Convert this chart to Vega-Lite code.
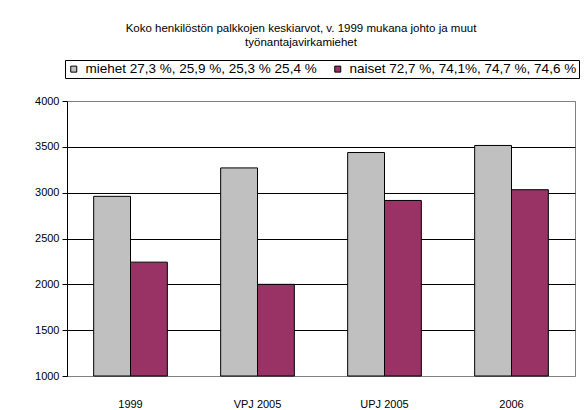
{
  "$schema": "https://vega.github.io/schema/vega-lite/v6.json",
  "autosize": {"type": "none"},
  "width": 508,
  "height": 275,
  "padding": {"left": 67, "top": 101, "right": 9, "bottom": 34},
  "background": "white",
  "config": {
    "font": "Liberation Sans",
    "view": {"stroke": "#808080", "strokeWidth": 1}
  },
  "title": {
    "text": ["Koko henkilöstön palkkojen keskiarvot, v. 1999 mukana johto ja muut", "työnantajavirkamiehet"],
    "fontSize": 11.5,
    "fontWeight": "normal",
    "font": "Liberation Sans",
    "color": "black",
    "anchor": "middle",
    "dx": -20,
    "offset": 11,
    "lineHeight": 14.5
  },
  "data": {
    "values": [
      {"vuosi": "1999", "sarja": "miehet 27,3 %, 25,9 %, 25,3 % 25,4 %", "palkka": 2960},
      {"vuosi": "1999", "sarja": "naiset 72,7 %, 74,1%, 74,7 %, 74,6 %", "palkka": 2242},
      {"vuosi": "VPJ 2005", "sarja": "miehet 27,3 %, 25,9 %, 25,3 % 25,4 %", "palkka": 3270},
      {"vuosi": "VPJ 2005", "sarja": "naiset 72,7 %, 74,1%, 74,7 %, 74,6 %", "palkka": 2000},
      {"vuosi": "UPJ 2005", "sarja": "miehet 27,3 %, 25,9 %, 25,3 % 25,4 %", "palkka": 3438},
      {"vuosi": "UPJ 2005", "sarja": "naiset 72,7 %, 74,1%, 74,7 %, 74,6 %", "palkka": 2915},
      {"vuosi": "2006", "sarja": "miehet 27,3 %, 25,9 %, 25,3 % 25,4 %", "palkka": 3515},
      {"vuosi": "2006", "sarja": "naiset 72,7 %, 74,1%, 74,7 %, 74,6 %", "palkka": 3032}
    ]
  },
  "mark": {"type": "bar", "stroke": "black", "strokeWidth": 1},
  "encoding": {
    "x": {
      "field": "vuosi",
      "type": "nominal",
      "sort": ["1999", "VPJ 2005", "UPJ 2005", "2006"],
      "scale": {"paddingInner": 0.42, "paddingOuter": 0.21},
      "axis": {
        "title": null,
        "labelAngle": 0,
        "ticks": false,
        "domain": false,
        "labelPadding": 22,
        "labelFontSize": 11,
        "labelColor": "black"
      }
    },
    "xOffset": {
      "field": "sarja",
      "type": "nominal",
      "scale": {"paddingInner": 0, "paddingOuter": 0}
    },
    "y": {
      "field": "palkka",
      "type": "quantitative",
      "scale": {"domain": [1000, 4000], "zero": false, "nice": false},
      "axis": {
        "title": null,
        "format": "d",
        "values": [1000, 1500, 2000, 2500, 3000, 3500, 4000],
        "domainColor": "black",
        "tickColor": "black",
        "tickSize": 5,
        "labelPadding": 3,
        "labelFontSize": 11,
        "labelColor": "black",
        "gridColor": {"condition": {"test": "datum.value == 1000 || datum.value == 4000", "value": "#808080"}, "value": "black"},
        "gridOpacity": 1
      }
    },
    "y2": {"datum": 1000},
    "color": {
      "field": "sarja",
      "type": "nominal",
      "scale": {"range": ["#C0C0C0", "#993366"]},
      "legend": {
        "title": null,
        "orient": "none",
        "legendX": -2,
        "legendY": -41,
        "direction": "horizontal",
        "strokeColor": "black",
        "padding": 2,
        "symbolType": "square",
        "symbolSize": 36,
        "symbolStrokeColor": "black",
        "symbolStrokeWidth": 1,
        "symbolOpacity": 1,
        "labelFontSize": 13.5,
        "labelColor": "black",
        "labelLimit": 400,
        "labelOffset": 5,
        "columnPadding": 14
      }
    }
  }
}
